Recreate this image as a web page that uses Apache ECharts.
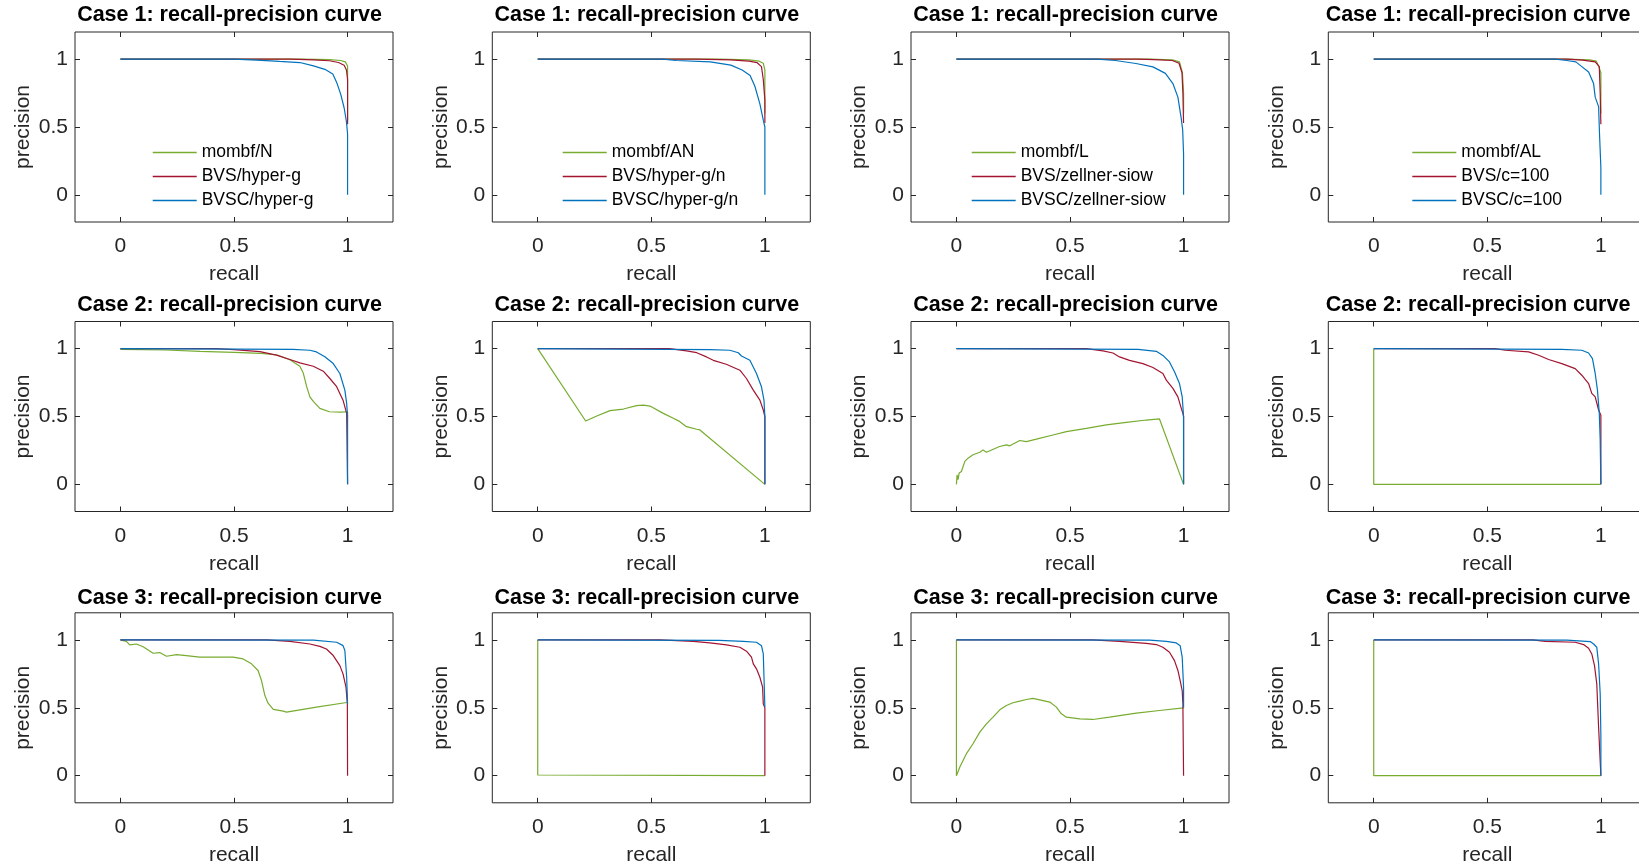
<!DOCTYPE html>
<html lang="en">
<head>
<meta charset="UTF-8">
<title>recall-precision curves</title>
<script src="https://cdn.jsdelivr.net/npm/echarts@6/dist/echarts.min.js"></script>
<style>
  html, body { margin: 0; padding: 0; background: #fff; }
  #main { width: 1639px; height: 867px; }
</style>
</head>
<body>
<div id="main"></div>
<script>
// ---- data: [recall, precision] pairs ----
// Case 1
var c1_N_mombf   = [[0,1],[0.8,1],[0.92,0.997],[0.97,0.99],[0.99,0.98],[1,0.95],[1,0.9],[1,0.55]];
var c1_N_bvs     = [[0,1],[0.75,1],[0.85,0.995],[0.92,0.988],[0.96,0.975],[0.985,0.955],[0.995,0.92],[1,0.85],[1,0.52]];
var c1_N_bvsc    = [[0,1],[0.5,1],[0.6,0.993],[0.7,0.983],[0.79,0.975],[0.85,0.95],[0.9,0.925],[0.935,0.89],[0.954,0.82],[0.97,0.74],[0.985,0.64],[0.995,0.54],[1,0.45],[1,0]];
var c1_AN_mombf  = [[0,1],[0.8,1],[0.93,0.995],[0.975,0.985],[0.993,0.97],[1,0.92],[1,0.6]];
var c1_AN_bvs    = [[0,1],[0.7,1],[0.85,0.994],[0.93,0.985],[0.965,0.975],[0.985,0.945],[0.993,0.85],[1,0.7],[1,0.53]];
var c1_AN_bvsc   = [[0,1],[0.55,1],[0.61,0.99],[0.76,0.98],[0.85,0.956],[0.9,0.92],[0.935,0.88],[0.956,0.8],[0.978,0.67],[0.993,0.55],[1,0.5],[1,0]];
var c1_L_mombf   = [[0,1],[0.85,1],[0.95,0.995],[0.982,0.98],[0.995,0.9],[1,0.75],[1,0.6]];
var c1_L_bvs     = [[0,1],[0.8,1],[0.87,0.997],[0.95,0.99],[0.98,0.97],[0.993,0.9],[0.997,0.75],[1,0.53]];
var c1_L_bvsc    = [[0,1],[0.62,1],[0.7,0.99],[0.79,0.968],[0.865,0.943],[0.92,0.895],[0.953,0.82],[0.975,0.72],[0.99,0.56],[0.996,0.48],[1,0.3],[1,0]];
var c1_AL_mombf  = [[0,1],[0.85,1],[0.95,0.995],[0.98,0.985],[0.99,0.95],[1,0.9],[1,0.6]];
var c1_AL_bvs    = [[0,1],[0.85,1],[0.92,0.993],[0.975,0.98],[0.993,0.945],[0.997,0.75],[1,0.52]];
var c1_AL_bvsc   = [[0,1],[0.8,1],[0.85,0.99],[0.89,0.98],[0.916,0.945],[0.946,0.905],[0.968,0.82],[0.975,0.72],[0.99,0.65],[0.994,0.45],[1,0.2],[1,0]];
// Case 2
var c2_N_mombf   = [[0,0.995],[0.2,0.99],[0.35,0.98],[0.5,0.972],[0.62,0.965],[0.69,0.953],[0.746,0.918],[0.79,0.87],[0.805,0.82],[0.82,0.72],[0.834,0.645],[0.85,0.61],[0.878,0.56],[0.92,0.535],[0.97,0.532],[1,0.535],[1,0.5]];
var c2_N_bvs     = [[0,1],[0.42,1],[0.5,0.993],[0.614,0.978],[0.687,0.952],[0.746,0.92],[0.79,0.895],[0.849,0.87],[0.893,0.834],[0.922,0.78],[0.952,0.72],[0.98,0.62],[0.996,0.523],[1,0.51],[1,0]];
var c2_N_bvsc    = [[0,1],[0.76,0.995],[0.834,0.988],[0.863,0.976],[0.9,0.94],[0.937,0.89],[0.966,0.817],[0.988,0.694],[0.996,0.597],[1,0.5],[1,0]];
var c2_AN_mombf  = [[0,1],[0.211,0.467],[0.26,0.504],[0.318,0.543],[0.377,0.555],[0.435,0.58],[0.465,0.584],[0.494,0.577],[0.553,0.523],[0.597,0.487],[0.626,0.462],[0.655,0.425],[0.7,0.406],[0.714,0.401],[1,0]];
var c2_AN_bvs    = [[0,1],[0.58,1],[0.655,0.983],[0.7,0.97],[0.743,0.939],[0.773,0.914],[0.83,0.885],[0.89,0.841],[0.919,0.78],[0.949,0.694],[0.978,0.621],[0.993,0.548],[1,0.5],[1,0]];
var c2_AN_bvsc   = [[0,1],[0.758,0.993],[0.846,0.988],[0.883,0.97],[0.897,0.946],[0.934,0.914],[0.963,0.817],[0.985,0.719],[0.996,0.621],[1,0.5],[1,0]];
var c2_L_mombf   = [[0,0],[0.003,0.07],[0.007,0.035],[0.012,0.083],[0.022,0.095],[0.037,0.169],[0.051,0.193],[0.073,0.218],[0.103,0.237],[0.117,0.254],[0.132,0.237],[0.19,0.279],[0.22,0.291],[0.235,0.284],[0.279,0.323],[0.308,0.315],[0.352,0.333],[0.425,0.364],[0.484,0.389],[0.572,0.413],[0.66,0.438],[0.748,0.457],[0.836,0.474],[0.894,0.482],[1,0]];
var c2_L_bvs     = [[0,1],[0.572,1],[0.645,0.983],[0.689,0.968],[0.718,0.939],[0.762,0.914],[0.821,0.89],[0.865,0.861],[0.909,0.817],[0.924,0.768],[0.953,0.707],[0.975,0.645],[0.99,0.56],[0.997,0.523],[1,0.5],[1,0]];
var c2_L_bvsc    = [[0,1],[0.8,0.995],[0.88,0.98],[0.909,0.95],[0.938,0.902],[0.96,0.829],[0.982,0.743],[0.994,0.645],[1,0.5],[1,0]];
var c2_AL_mombf  = [[0,1],[0,0],[1,0]];
var c2_AL_bvs    = [[0,1],[0.535,1],[0.579,0.988],[0.682,0.976],[0.726,0.951],[0.77,0.92],[0.828,0.89],[0.887,0.853],[0.916,0.804],[0.946,0.743],[0.96,0.67],[0.975,0.645],[0.99,0.548],[1,0.51],[1,0]];
var c2_AL_bvsc   = [[0,1],[0.828,0.995],[0.916,0.988],[0.946,0.968],[0.963,0.927],[0.975,0.817],[0.985,0.694],[0.993,0.523],[0.997,0.328],[1,0]];
// Case 3
var c3_N_mombf   = [[0,1],[0.026,0.99],[0.041,0.963],[0.07,0.97],[0.1,0.95],[0.144,0.902],[0.173,0.907],[0.203,0.88],[0.247,0.892],[0.29,0.885],[0.349,0.873],[0.423,0.873],[0.496,0.873],[0.54,0.86],[0.577,0.824],[0.606,0.775],[0.621,0.701],[0.636,0.59],[0.65,0.534],[0.673,0.488],[0.717,0.475],[0.731,0.468],[0.863,0.505],[0.996,0.539]];
var c3_N_bvs     = [[0,1],[0.643,1],[0.746,0.99],[0.834,0.97],[0.878,0.953],[0.907,0.933],[0.937,0.885],[0.966,0.811],[0.98,0.75],[0.993,0.652],[0.999,0.529],[1,0]];
var c3_N_bvsc    = [[0,1],[0.85,0.998],[0.952,0.983],[0.98,0.958],[0.988,0.922],[0.996,0.725],[1,0.53]];
var c3_AN_mombf  = [[0,1],[0,0.005],[1,0]];
var c3_AN_bvs    = [[0,1],[0.538,1],[0.685,0.99],[0.758,0.978],[0.831,0.963],[0.89,0.946],[0.919,0.917],[0.941,0.873],[0.949,0.824],[0.963,0.787],[0.978,0.725],[0.99,0.652],[0.993,0.529],[1,0.5],[1,0]];
var c3_AN_bvsc   = [[0,1],[0.8,0.997],[0.905,0.99],[0.963,0.983],[0.985,0.958],[0.993,0.897],[0.997,0.676],[1,0.505]];
var c3_L_mombf   = [[0,1],[0,0],[0.015,0.064],[0.044,0.162],[0.073,0.235],[0.103,0.321],[0.132,0.382],[0.161,0.431],[0.191,0.485],[0.22,0.517],[0.249,0.537],[0.279,0.549],[0.308,0.561],[0.337,0.569],[0.367,0.559],[0.411,0.542],[0.44,0.505],[0.462,0.456],[0.484,0.431],[0.543,0.419],[0.601,0.414],[0.674,0.431],[0.792,0.461],[0.894,0.48],[1,0.5]];
var c3_L_bvs     = [[0,1],[0.6,1],[0.718,0.99],[0.836,0.975],[0.88,0.966],[0.909,0.946],[0.938,0.909],[0.96,0.848],[0.975,0.775],[0.985,0.701],[0.994,0.627],[0.997,0.529],[1,0]];
var c3_L_bvsc    = [[0,1],[0.85,0.998],[0.924,0.99],[0.968,0.978],[0.985,0.958],[0.994,0.873],[1,0.652],[1,0.5]];
var c3_AL_mombf  = [[0,1],[0,0],[1,0]];
var c3_AL_bvs    = [[0,1],[0.7,1],[0.755,0.99],[0.887,0.983],[0.924,0.966],[0.946,0.939],[0.96,0.897],[0.972,0.811],[0.982,0.676],[0.99,0.358],[1,0]];
var c3_AL_bvsc   = [[0,1],[0.85,0.998],[0.953,0.988],[0.968,0.97],[0.982,0.946],[0.99,0.824],[0.997,0.603],[1,0.3],[1,0]];

var caseTitles = ['Case 1: recall-precision curve', 'Case 2: recall-precision curve', 'Case 3: recall-precision curve'];
var methodNames = [
    ['mombf/N', 'BVS/hyper-g', 'BVSC/hyper-g'],
    ['mombf/AN', 'BVS/hyper-g/n', 'BVSC/hyper-g/n'],
    ['mombf/L', 'BVS/zellner-siow', 'BVSC/zellner-siow'],
    ['mombf/AL', 'BVS/c=100', 'BVSC/c=100']
];
var tickValues = [0, 0.5, 1];

// rows = cases, cols = prior settings; each cell is [mombf, BVS, BVSC]
var curves = [
    [[c1_N_mombf, c1_N_bvs, c1_N_bvsc], [c1_AN_mombf, c1_AN_bvs, c1_AN_bvsc], [c1_L_mombf, c1_L_bvs, c1_L_bvsc], [c1_AL_mombf, c1_AL_bvs, c1_AL_bvsc]],
    [[c2_N_mombf, c2_N_bvs, c2_N_bvsc], [c2_AN_mombf, c2_AN_bvs, c2_AN_bvsc], [c2_L_mombf, c2_L_bvs, c2_L_bvsc], [c2_AL_mombf, c2_AL_bvs, c2_AL_bvsc]],
    [[c3_N_mombf, c3_N_bvs, c3_N_bvsc], [c3_AN_mombf, c3_AN_bvs, c3_AN_bvsc], [c3_L_mombf, c3_L_bvs, c3_L_bvsc], [c3_AL_mombf, c3_AL_bvs, c3_AL_bvsc]]
];

// ---- layout (MATLAB-like subplot grid) ----
var colors = ['#77AC30', '#A2142F', '#0072BD'];
var axisColor = '#262626';
var fontFam = '"Liberation Sans", Arial, Helvetica, sans-serif';
var colLeft = [75, 492.3, 911, 1328.3];
var rowTop = [32, 321.5, 612.8];
var boxW = 318, boxH = 190;
var titleX = [229.5, 646.8, 1065.5, 1478];
var titleY = [15.5, 305.5, 598];
var legendLeft = [152.7, 562.7, 971.7, 1412.3];

var grid = [], xAxis = [], yAxis = [], series = [], title = [], legend = [];

for (var r = 0; r < 3; r++) {
    for (var c = 0; c < 4; c++) {
        var g = grid.length;
        grid.push({
            left: colLeft[c], top: rowTop[r], width: boxW, height: boxH,
            outerBoundsMode: 'none', containLabel: false,
            show: true, borderColor: axisColor, borderWidth: 1, backgroundColor: 'transparent'
        });
        // bottom / left axes with labels
        xAxis.push({
            gridIndex: g, type: 'value', min: -0.2, max: 1.2, position: 'bottom',
            axisLine: { show: false, onZero: false },
            axisTick: { inside: true, length: 5, customValues: tickValues, lineStyle: { color: axisColor } },
            axisLabel: { customValues: tickValues, margin: 14, fontSize: 21, color: axisColor, fontFamily: fontFam },
            splitLine: { show: false },
            name: 'recall', nameLocation: 'middle', nameGap: 42,
            nameTextStyle: { fontSize: 21, color: axisColor, fontFamily: fontFam }
        });
        yAxis.push({
            gridIndex: g, type: 'value', min: -0.2, max: 1.2, position: 'left',
            axisLine: { show: false, onZero: false },
            axisTick: { inside: true, length: 5, customValues: tickValues, lineStyle: { color: axisColor } },
            axisLabel: { customValues: tickValues, margin: 7, fontSize: 21, color: axisColor, fontFamily: fontFam },
            splitLine: { show: false },
            name: 'precision', nameLocation: 'middle', nameGap: 41,
            nameTextStyle: { fontSize: 21, color: axisColor, fontFamily: fontFam }
        });
        // top / right axes: ticks only (box on)
        xAxis.push({
            gridIndex: g, type: 'value', min: -0.2, max: 1.2, position: 'top',
            axisLine: { show: false, onZero: false },
            axisTick: { inside: true, length: 5, customValues: tickValues, lineStyle: { color: axisColor } },
            axisLabel: { show: false }, splitLine: { show: false }
        });
        yAxis.push({
            gridIndex: g, type: 'value', min: -0.2, max: 1.2, position: 'right',
            axisLine: { show: false, onZero: false },
            axisTick: { inside: true, length: 5, customValues: tickValues, lineStyle: { color: axisColor } },
            axisLabel: { show: false }, splitLine: { show: false }
        });

        title.push({
            text: caseTitles[r], left: titleX[c], top: titleY[r],
            textAlign: 'center', textVerticalAlign: 'middle', padding: 0,
            textStyle: { fontSize: 21.5, fontWeight: 'bold', color: '#000', fontFamily: fontFam }
        });

        for (var k = 0; k < 3; k++) {
            series.push({
                name: methodNames[c][k],
                type: 'line',
                xAxisIndex: 2 * g, yAxisIndex: 2 * g,
                data: curves[r][c][k],
                symbol: 'none', showSymbol: false, smooth: false,
                color: colors[k],
                lineStyle: { color: colors[k], width: 1.2 },
                animation: false, silent: true
            });
        }
    }
}

for (var c2 = 0; c2 < 4; c2++) {
    legend.push({
        data: methodNames[c2],
        orient: 'vertical',
        left: legendLeft[c2], top: 140.5,
        padding: 0, itemGap: 0,
        icon: 'rect', itemWidth: 44, itemHeight: 1.4,
        selectedMode: false,
        textStyle: { fontSize: 17.5, lineHeight: 24, color: '#000', fontFamily: fontFam }
    });
}

var chart = echarts.init(document.getElementById('main'), null, { renderer: 'canvas', width: 1639, height: 867 });
chart.setOption({
    animation: false,
    backgroundColor: '#fff',
    textStyle: { fontFamily: fontFam },
    title: title,
    legend: legend,
    grid: grid,
    xAxis: xAxis,
    yAxis: yAxis,
    series: series
});
</script>
</body>
</html>
